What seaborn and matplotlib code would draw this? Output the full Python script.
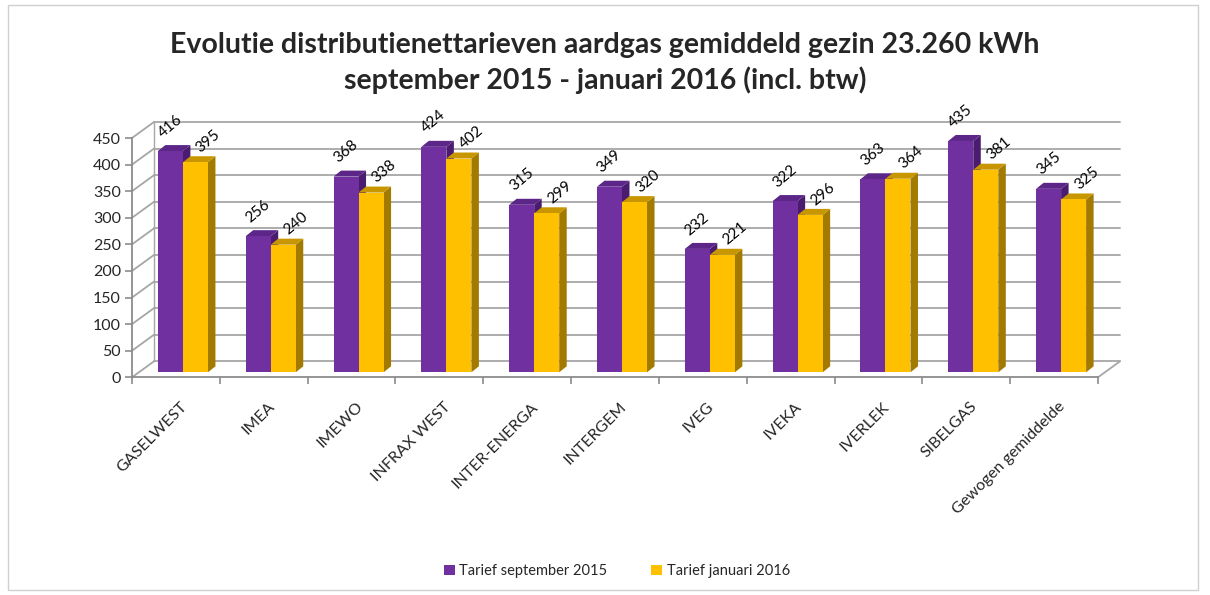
import numpy as np
import pandas as pd
import matplotlib
matplotlib.use("Agg")
import matplotlib.pyplot as plt
import matplotlib.transforms as mtransforms
from matplotlib.patches import Polygon, Rectangle
import seaborn as sns

# ---------------- data ----------------
categories = ["GASELWEST", "IMEA", "IMEWO", "INFRAX WEST", "INTER-ENERGA", "INTERGEM",
              "IVEG", "IVEKA", "IVERLEK", "SIBELGAS", "Gewogen gemiddelde"]
tarief_sep_2015 = [416, 256, 368, 424, 315, 349, 232, 322, 363, 435, 345]
tarief_jan_2016 = [395, 240, 338, 402, 299, 320, 221, 296, 364, 381, 325]
series_names = ["Tarief september 2015", "Tarief januari 2016"]
y_ticks = list(range(0, 451, 50))
title_lines = ["Evolutie distributienettarieven aardgas gemiddeld gezin 23.260 kWh",
               "september 2015 - januari 2016 (incl. btw)"]

df = pd.DataFrame({
    "categorie": categories * 2,
    "waarde": tarief_sep_2015 + tarief_jan_2016,
    "reeks": [series_names[0]] * len(categories) + [series_names[1]] * len(categories),
})

# ---------------- style ----------------
sns.set_style("white")
plt.rcParams["font.family"] = ["Lato", "DejaVu Sans"]

PURPLE = "#7030A0"
YELLOW = "#FFC000"
TOP = {PURPLE: "#5B2688", YELLOW: "#C89600"}
SIDE = {PURPLE: "#4A1C70", YELLOW: "#A37A00"}
GRID = "#A6A6A6"
AXIS = "#8C8C8C"

W, H = 1210, 595
fig = plt.figure(figsize=(W / 100, H / 100), dpi=100)
fig.patch.set_facecolor("white")

x0_px, x1_px, y0_px, y1_px = 132, 1098, 377.3, 138
ax = fig.add_axes([x0_px / W, 1 - y0_px / H, (x1_px - x0_px) / W, (y0_px - y1_px) / H])

n = len(categories)
cat_px = (x1_px - x0_px) / n
val_px = (y0_px - y1_px) / 450.0

sns.barplot(data=df, x="categorie", y="waarde", hue="reeks", order=categories,
            hue_order=series_names, palette=[PURPLE, YELLOW], width=0.57,
            saturation=1, linewidth=0, errorbar=None, ax=ax, zorder=4)

ax.set_xlim(-0.5, n - 0.5)
ax.set_ylim(0, 450)
ax.set_xlabel("")
ax.set_ylabel("")

# bar placement within the 3D box (pixel offset) and bar depth
off = mtransforms.offset_copy(ax.transData, fig=fig, x=7, y=5, units="dots")
bdx = 7.5 / cat_px
bdy = 6.0 / val_px
# wall depth
wdx = 22 / cat_px
wdy = 16 / val_px

# ---- walls / gridlines ----
for v in y_ticks:
    ax.plot([-0.5 + wdx, n - 0.5 + wdx], [v + wdy, v + wdy], color=GRID, lw=1.3,
            zorder=0.5, clip_on=False)
    ax.plot([-0.5, -0.5 + wdx], [v, v + wdy], color=GRID, lw=1.3, zorder=0.5, clip_on=False)
ax.plot([-0.5 + wdx, -0.5 + wdx], [wdy, 450 + wdy], color=GRID, lw=1.0, zorder=0.5, clip_on=False)
ax.plot([n - 0.5, n - 0.5 + wdx], [0, wdy], color=GRID, lw=1.3, zorder=0.5, clip_on=False)

# ---- 3D faces on bars ----
bars = [p for p in ax.patches if p.get_height() > 0]
for p in bars:
    p.set_transform(off)
    p.set_clip_on(False)
    x = p.get_x()
    w = p.get_width()
    h = p.get_height()
    fc = matplotlib.colors.to_hex(p.get_facecolor())
    col = PURPLE if fc.lower() == PURPLE.lower() else YELLOW
    top = Polygon([(x, h), (x + w, h), (x + w + bdx, h + bdy), (x + bdx, h + bdy)],
                  closed=True, facecolor=TOP[col], edgecolor="none", transform=off,
                  zorder=3, clip_on=False)
    side = Polygon([(x + w, 0), (x + w + bdx, bdy), (x + w + bdx, h + bdy), (x + w, h)],
                   closed=True, facecolor=SIDE[col], edgecolor="none", transform=off,
                   zorder=2, clip_on=False)
    ax.add_patch(top)
    ax.add_patch(side)
    # data label
    if col == PURPLE:
        dxp, dyp = 7 + 0, 5 + 25
    else:
        dxp, dyp = 7 + 13, 5 + 21
    ax.annotate(f"{int(round(h))}", xy=(x + w / 2, h), xytext=(dxp, dyp),
                textcoords="offset pixels", ha="center", va="center", rotation=40,
                fontsize=11, color="black", zorder=6, annotation_clip=False)

# ---- axes / ticks ----
for s in ["top", "right"]:
    ax.spines[s].set_visible(False)
for s in ["left", "bottom"]:
    ax.spines[s].set_color(AXIS)
    ax.spines[s].set_linewidth(1.3)
    ax.spines[s].set_zorder(1)

ax.set_yticks(y_ticks)
ax.set_yticklabels([str(v) for v in y_ticks], fontsize=11.5)
ax.tick_params(axis="y", length=5, width=1.2, color=AXIS, pad=3, left=True)

ax.set_xticks(range(n))
ax.set_xticklabels(categories, rotation=45, ha="right", rotation_mode="anchor", fontsize=11.5)
ax.tick_params(axis="x", which="major", length=0, pad=16)
ax.set_xticks(np.arange(-0.5, n, 1.0), minor=True)
ax.tick_params(axis="x", which="minor", length=5, width=1.2, color=AXIS, bottom=True)
for lab in ax.get_xticklabels():
    lab.set_transform(lab.get_transform() + mtransforms.ScaledTranslation(4 / 100, 0, fig.dpi_scale_trans))

# ---- legend ----
sns.move_legend(ax, loc="center", bbox_to_anchor=(617 / W, 1 - 571 / H),
                bbox_transform=fig.transFigure, ncol=2, title=None, frameon=False,
                fontsize=10.5, handlelength=0.75, handleheight=0.75, handletextpad=0.3,
                columnspacing=3.0)

# ---- title ----
fig.text(0.5, 1 - 45 / H, title_lines[0], ha="center", va="center", fontsize=20.5,
         fontweight="bold")
fig.text(0.5, 1 - 80 / H, title_lines[1], ha="center", va="center", fontsize=20.5,
         fontweight="bold")

# ---- outer border ----
fig.add_artist(Rectangle((8 / W, 5 / H), (1198 - 8) / W, (590 - 5) / H,
                         transform=fig.transFigure, fill=False, edgecolor="#D0D0D0", lw=1))

fig.savefig("out.png", dpi=100)
